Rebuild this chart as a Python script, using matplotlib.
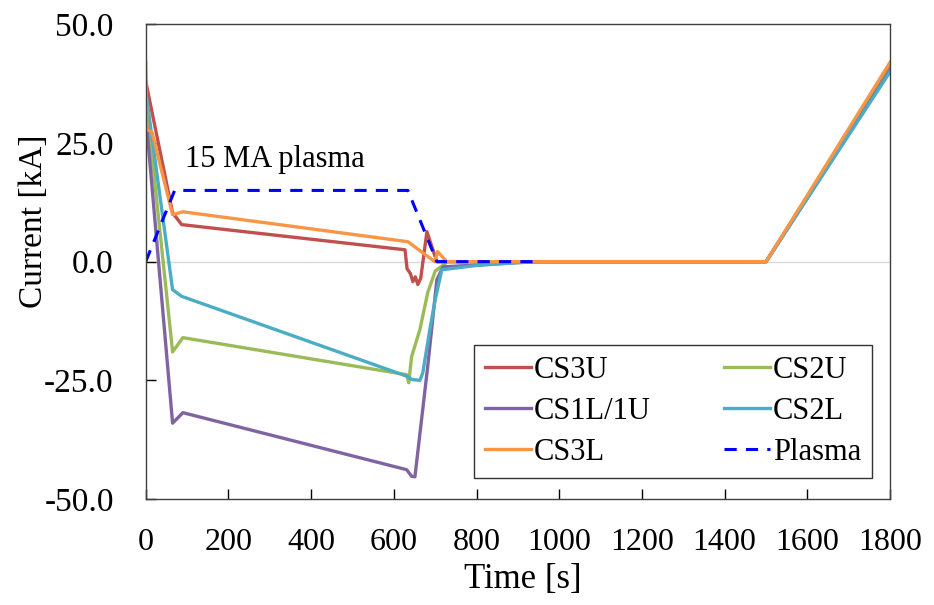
import matplotlib
matplotlib.use("Agg")
import matplotlib.pyplot as plt

plt.rcParams['font.family'] = ['Liberation Serif', 'DejaVu Serif']
plt.rcParams['axes.unicode_minus'] = False

# time [s] / current [kA]
t_cs3u = [0, 65, 87, 627, 632, 640, 646, 652, 658, 665, 680, 704, 950, 1500, 1800]
i_cs3u = [38, 10.3, 7.8, 2.5, -1.5, -2.5, -4.2, -3.2, -4.8, -3.5, 6.3, 0, 0, 0, 41]

t_cs2u = [0, 65, 90, 631, 636, 643, 663, 682, 700, 730, 950, 1500, 1800]
i_cs2u = [35, -19, -16, -23.8, -25.5, -20, -14.3, -6.5, -2, 0, 0, 0, 40.5]

t_cs1l = [0, 65, 90, 631, 643, 651, 682, 704, 719, 800, 900, 950, 1500, 1800]
i_cs1l = [31, -34, -31.8, -43.8, -45.2, -45.3, -22, -3.8, -1.1, -0.7, -0.2, 0, 0, 40.3]

t_cs2l = [0, 65, 87, 634, 643, 663, 670, 687, 700, 716, 800, 900, 950, 1500, 1800]
i_cs2l = [36, -5.9, -7.3, -24.2, -24.8, -25, -23.4, -14.3, -8, -1.7, -0.8, -0.2, 0, 0, 40]

t_cs3l = [0, 3, 15, 65, 90, 634, 699, 706, 728, 950, 1500, 1800]
i_cs3l = [42, 27.8, 27.3, 9.9, 10.5, 4.2, 0, 2.1, 0, 0, 0, 42]

t_plasma = [0, 70, 634, 704, 950]
i_plasma = [0, 15, 15, 0, 0]

fig = plt.figure(figsize=(9.34, 6.05), dpi=100)
ax = fig.add_axes([0.156, 0.175, 0.797, 0.785])

ax.axhline(0, color="#d9d9d9", lw=1, zorder=0)

lw = 2.4
ax.plot(t_cs3u, i_cs3u, color="#C0504D", lw=lw, label="CS3U")
ax.plot(t_cs2u, i_cs2u, color="#9BBB59", lw=lw, label="CS2U")
ax.plot(t_cs1l, i_cs1l, color="#8064A2", lw=lw, label="CS1L/1U")
ax.plot(t_cs2l, i_cs2l, color="#4BACC6", lw=lw, label="CS2L")
ax.plot(t_cs3l, i_cs3l, color="#F79646", lw=lw, label="CS3L")
ax.plot(t_plasma, i_plasma, color="#0000FF", lw=2.2, ls=(0, (4, 3)), label="Plasma")

ax.text(94, 21.5, "15 MA plasma", fontsize=22, va="center", ha="left")

ax.set_xlim(0, 1800)
ax.set_ylim(-50, 50)
ax.set_xticks(range(0, 1801, 200))
ax.set_yticks([-50, -25, 0, 25, 50])
ax.yaxis.set_major_formatter(matplotlib.ticker.FormatStrFormatter("%.1f"))
ax.tick_params(direction="in", length=7, width=1)
ax.tick_params(axis="x", labelsize=23, pad=21)
ax.tick_params(axis="y", labelsize=24, pad=23)
for s in ax.spines.values():
    s.set_linewidth(1)
    s.set_color("#404040")

ax.set_xlabel("Time [s]", fontsize=25)
ax.set_ylabel("Current [kA]", fontsize=24)
ax.xaxis.set_label_coords(0.507, -0.135)
ax.yaxis.set_label_coords(-0.13, 0.585)

# legend order matches the two-column layout of the original
h, l = ax.get_legend_handles_labels()
order = [0, 2, 4, 1, 3, 5]
leg = ax.legend([h[i] for i in order], [l[i] for i in order], ncol=2,
                loc="center", bbox_to_anchor=(0.44, 0.061, 0.537, 0.248),
                fontsize=22, frameon=True, fancybox=False, edgecolor="black",
                handlelength=1.5, handletextpad=0.1, columnspacing=2.4,
                labelspacing=0.4, borderpad=0.35)
leg.get_frame().set_linewidth(1)

fig.savefig("out.png", dpi=100)
